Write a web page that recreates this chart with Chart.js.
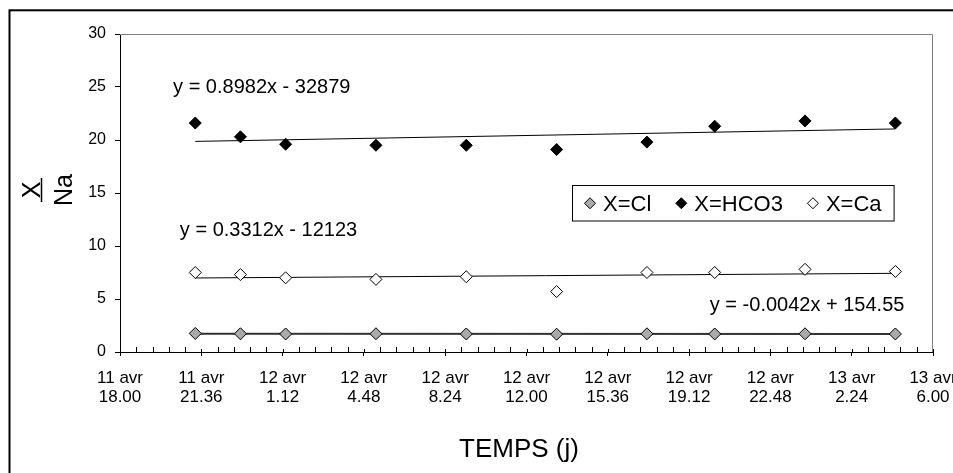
<!DOCTYPE html>
<html>
<head>
<meta charset="utf-8">
<script src="https://cdn.jsdelivr.net/npm/chart.js@4.4.1/dist/chart.umd.min.js"></script>
<style>
  html, body { margin: 0; padding: 0; background: #fff; }
</style>
</head>
<body>
<canvas id="chart" width="953" height="473"></canvas>
<script>
// sample times, in minutes after 11 avr 18.00
const sampleMinutes = [200, 320, 440, 680, 920, 1160, 1400, 1580, 1820, 2060];
const clValues = [1.75, 1.72, 1.70, 1.72, 1.70, 1.68, 1.72, 1.70, 1.72, 1.70];
const hco3Values = [21.6, 20.3, 19.6, 19.5, 19.5, 19.1, 19.8, 21.3, 21.8, 21.6];
const caValues = [7.5, 7.3, 7.0, 6.85, 7.1, 5.7, 7.5, 7.5, 7.8, 7.6];
const seriesNames = ['X=Cl', 'X=HCO3', 'X=Ca'];
const trendEquations = ['y = -0.0042x + 154.55', 'y = 0.8982x - 32879', 'y = 0.3312x - 12123'];

const xTickMinutes = [0, 216, 432, 648, 864, 1080, 1296, 1512, 1728, 1944, 2160];
const xTickLabels = [
  ['11 avr', '18.00'], ['11 avr', '21.36'], ['12 avr', '1.12'], ['12 avr', '4.48'],
  ['12 avr', '8.24'], ['12 avr', '12.00'], ['12 avr', '15.36'], ['12 avr', '19.12'],
  ['12 avr', '22.48'], ['13 avr', '2.24'], ['13 avr', '6.00']
];

const FONT = '"Liberation Sans", Arial, sans-serif';
Chart.defaults.font.family = FONT;
Chart.defaults.color = '#000';

const fills = ['#aaaaaa', '#000000', '#ffffff'];

function toPoints(ys) {
  return sampleMinutes.map((m, i) => ({ x: m, y: ys[i] }));
}

// least squares line, drawn between first and last sample
function trendLine(ys) {
  const n = ys.length;
  const mx = sampleMinutes.reduce((a, b) => a + b, 0) / n;
  const my = ys.reduce((a, b) => a + b, 0) / n;
  let sxy = 0, sxx = 0;
  for (let i = 0; i < n; i++) {
    sxy += (sampleMinutes[i] - mx) * (ys[i] - my);
    sxx += (sampleMinutes[i] - mx) * (sampleMinutes[i] - mx);
  }
  const slope = sxy / sxx;
  const x0 = sampleMinutes[0], x1 = sampleMinutes[n - 1];
  return [{ x: x0, y: my + slope * (x0 - mx) }, { x: x1, y: my + slope * (x1 - mx) }];
}

function diamond(ctx, x, y, r, fill) {
  ctx.beginPath();
  ctx.moveTo(x, y - r);
  ctx.lineTo(x + r, y);
  ctx.lineTo(x, y + r);
  ctx.lineTo(x - r, y);
  ctx.closePath();
  ctx.fillStyle = fill;
  ctx.fill();
  ctx.lineWidth = 1;
  ctx.strokeStyle = '#000';
  ctx.stroke();
}

const decor = {
  id: 'decor',
  beforeDraw(chart) {
    const ctx = chart.ctx;
    ctx.save();
    ctx.fillStyle = '#fff';
    ctx.fillRect(0, 0, chart.width, chart.height);
    ctx.restore();
  },
  afterDraw(chart) {
    const ctx = chart.ctx;
    const a = chart.chartArea;
    const xs = chart.scales.x, ys = chart.scales.y;
    ctx.save();

    // outer frame (cut off on the right and bottom)
    ctx.strokeStyle = '#000';
    ctx.lineWidth = 2;
    ctx.strokeRect(9.5, 10.3, 2000, 2000);

    // plot area top / right border
    ctx.strokeStyle = '#808080';
    ctx.lineWidth = 1;
    ctx.beginPath();
    ctx.moveTo(a.left, a.top + 0.5);
    ctx.lineTo(a.right - 0.5, a.top + 0.5);
    ctx.lineTo(a.right - 0.5, a.bottom);
    ctx.stroke();

    // x minor ticks (inside) and upper part of major ticks
    ctx.strokeStyle = '#000';
    ctx.beginPath();
    for (let k = 0; k <= 50; k++) {
      const px = Math.round(xs.getPixelForValue(k * 43.2)) + 0.5;
      const up = k % 5 === 0 ? 3 : 5;
      ctx.moveTo(px, a.bottom - up);
      ctx.lineTo(px, a.bottom);
    }
    ctx.stroke();

    // trend equations
    ctx.fillStyle = '#000';
    ctx.font = '20px ' + FONT;
    const eqPos = [
      { x: 2084, y: 4.53, align: 'right' },
      { x: 141, y: 25.1, align: 'left' },
      { x: 159, y: 11.56, align: 'left' }
    ];
    trendEquations.forEach((t, i) => {
      ctx.textAlign = eqPos[i].align;
      ctx.textBaseline = 'alphabetic';
      ctx.fillText(t, xs.getPixelForValue(eqPos[i].x), ys.getPixelForValue(eqPos[i].y) + 7);
    });

    // legend
    ctx.font = '22px ' + FONT;
    ctx.textAlign = 'left';
    const boxL = 572, boxT = 185.5, boxH = 35.5;
    const cy = boxT + boxH / 2;
    let x = boxL + 12;
    seriesNames.forEach((name, i) => {
      diamond(ctx, x + 6, cy, 5.5, fills[i]);
      ctx.fillStyle = '#000';
      ctx.fillText(name, x + 19, cy + 8);
      x = x + 19 + ctx.measureText(name).width + (i < seriesNames.length - 1 ? 24 : 12);
    });
    ctx.strokeStyle = '#000';
    ctx.lineWidth = 1;
    ctx.strokeRect(boxL + 0.5, boxT, x - boxL, boxH);

    // axis titles
    ctx.fillStyle = '#000';
    ctx.font = '26px ' + FONT;
    ctx.textAlign = 'center';
    ctx.fillText('TEMPS (j)', 519, 457);

    ctx.save();
    ctx.translate(0, 190);
    ctx.rotate(-Math.PI / 2);
    ctx.font = '25px ' + FONT;
    ctx.fillText('X', 0, 40);
    ctx.fillText('Na', 0, 72);
    ctx.beginPath();
    ctx.moveTo(-12, 41.5);
    ctx.lineTo(12, 41.5);
    ctx.lineWidth = 1.5;
    ctx.stroke();
    ctx.restore();

    ctx.restore();
  }
};

const pointStyle = (i) => ({
  pointStyle: 'rectRot',
  pointRadius: 6,
  pointBackgroundColor: fills[i],
  pointBorderColor: '#000',
  pointBorderWidth: 1,
  showLine: false,
  order: 0
});

const lineStyle = (w, c) => ({
  showLine: true,
  pointRadius: 0,
  borderColor: c,
  borderWidth: w,
  fill: false,
  order: 1
});

new Chart(document.getElementById('chart'), {
  type: 'scatter',
  data: {
    datasets: [
      { label: seriesNames[0], data: toPoints(clValues), ...pointStyle(0) },
      { label: seriesNames[1], data: toPoints(hco3Values), ...pointStyle(1) },
      { label: seriesNames[2], data: toPoints(caValues), ...pointStyle(2) },
      { label: 'trend Cl', data: trendLine(clValues), ...lineStyle(2, '#333') },
      { label: 'trend HCO3', data: trendLine(hco3Values), ...lineStyle(1, '#000') },
      { label: 'trend Ca', data: trendLine(caValues), ...lineStyle(1, '#000') }
    ]
  },
  options: {
    responsive: false,
    animation: false,
    events: [],
    layout: { padding: { top: 34, right: 20, left: 0, bottom: 0 } },
    plugins: { legend: { display: false }, tooltip: { enabled: false } },
    scales: {
      x: {
        type: 'linear',
        min: 0,
        max: 2160,
        afterBuildTicks: (scale) => { scale.ticks = xTickMinutes.map(v => ({ value: v })); },
        afterFit: (scale) => { scale.height = 121; scale.paddingLeft = 0; scale.paddingRight = 0; },
        ticks: {
          autoSkip: false,
          maxRotation: 0,
          padding: 13,
          font: { size: 17, lineHeight: 1.12 },
          callback: (v, i) => xTickLabels[i]
        },
        grid: { drawOnChartArea: false, tickLength: 4, color: '#000' },
        border: { color: '#000', width: 1 }
      },
      y: {
        min: 0,
        max: 30,
        afterFit: (scale) => { scale.width = 120; },
        ticks: { stepSize: 5, padding: 9, font: { size: 16 } },
        grid: { drawOnChartArea: false, tickLength: 5, color: '#000' },
        border: { color: '#000', width: 1 }
      }
    }
  },
  plugins: [decor]
});
</script>
</body>
</html>
